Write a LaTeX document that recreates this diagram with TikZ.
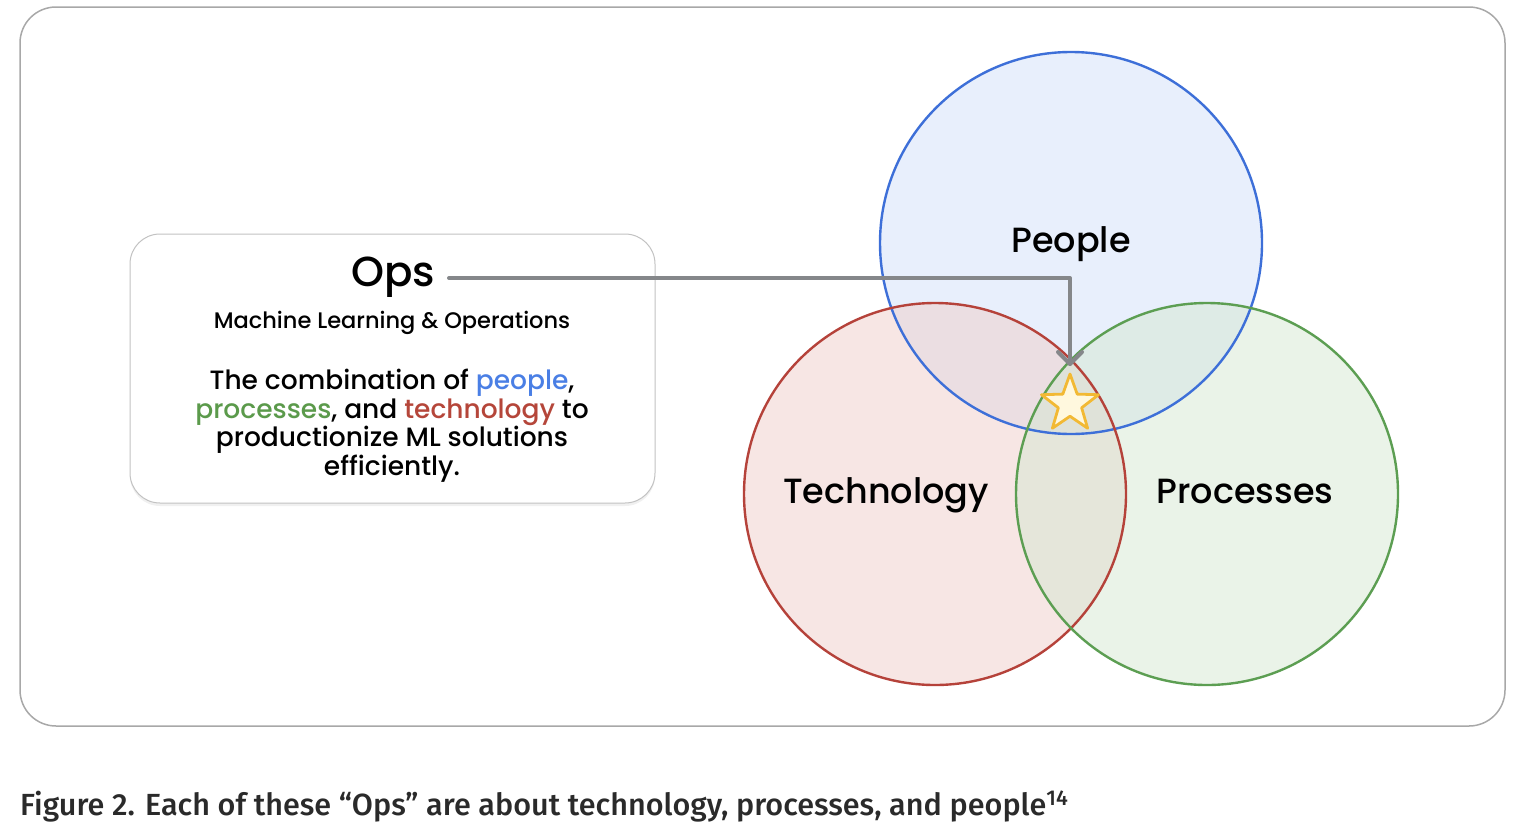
\documentclass[tikz,border=0pt]{standalone}
\usepackage{fontspec}
\setmainfont{Poppins Medium}
\newfontfamily\capfont{Fira Sans Medium}
\usetikzlibrary{shapes.geometric,arrows.meta,shadows}
\definecolor{frame}{HTML}{A8A8A8}
\definecolor{pplline}{HTML}{3D6FD8}
\definecolor{pplfill}{HTML}{D1DFF9}
\definecolor{techline}{HTML}{B5423A}
\definecolor{techfill}{HTML}{EFCDC9}
\definecolor{procline}{HTML}{5C9E52}
\definecolor{procfill}{HTML}{D5E7D1}
\definecolor{pplword}{HTML}{4A7FE5}
\definecolor{procword}{HTML}{5B9A4B}
\definecolor{techword}{HTML}{B5463A}
\definecolor{conn}{HTML}{85878A}
\definecolor{starline}{HTML}{F2B934}
\definecolor{starfill}{HTML}{FFF8DE}
\definecolor{captxt}{HTML}{2A2A2A}
\begin{document}
\begin{tikzpicture}[x=1pt,y=-1pt,
  setcircle/.style={circle,minimum size=382pt,inner sep=0pt},
  setlabel/.style={font=\fontsize{35}{40}\selectfont,inner sep=0pt},
  opsbox/.style={draw=frame!70,line width=1pt,rounded corners=30pt,fill=white,
     drop shadow={shadow xshift=0pt,shadow yshift=-3pt,opacity=0.12}},
  connector/.style={draw=conn,line width=4pt,line join=round}
]
\useasboundingbox (0,0) rectangle (1520,838);
% outer frame
\draw[frame,line width=1.5pt,rounded corners=36pt] (20,7) rectangle (1505,726);
% circles fills
\node[setcircle,fill=pplfill,fill opacity=0.5] (people) at (1071,243) {};
\node[setcircle,fill=techfill,fill opacity=0.5] (tech) at (935,494) {};
\node[setcircle,fill=procfill,fill opacity=0.5] (proc) at (1207,494) {};
% circle strokes
\draw[pplline,line width=2.4pt] (people.center) circle[radius=191pt];
\draw[techline,line width=2.4pt] (tech.center) circle[radius=191pt];
\draw[procline,line width=2.4pt] (proc.center) circle[radius=191pt];
% labels
\node[setlabel] (lpeople) at (1071,244) {People};
\node[setlabel] (ltech) at (886,495) {Technology};
\node[setlabel] (lproc) at (1245,491) {Processes};
% ops box
\node[opsbox,minimum width=525pt,minimum height=269pt,inner sep=0pt] (box) at (392.5,368.5) {};
\node[font=\fontsize{42}{46}\selectfont,inner sep=0pt] (ops) at (393,277) {Ops};
\node[font=\fontsize{22.5}{25}\selectfont,inner sep=0pt] (sub) at (392,323) {Machine Learning \& Operations};
\node[font=\fontsize{26.5}{28.6}\selectfont,align=center,inner sep=0pt,anchor=north] (body) at (392,369)
  {The combination of \textcolor{pplword}{people},\\
   \textcolor{procword}{processes}, and \textcolor{techword}{technology} to\\
   productionize ML solutions\\
   efficiently.};
% star
\node[star,star points=5,star point ratio=2.45,minimum size=60pt,inner sep=0pt,
      draw=starline,fill=starfill,line width=2.8pt,line join=round] (star) at (1070,404) {};
% connector
\coordinate (start) at (449,278);
\coordinate (bend) at (1070,278);
\coordinate (tip) at (1070,364);
\coordinate (barbl) at (1058,352);
\coordinate (barbr) at (1082,352);
\draw[connector,line cap=round] (start) -- (bend) -- (tip);
\draw[connector,line cap=round] (barbl) -- (tip) -- (barbr);
% caption
\node[anchor=base west,inner sep=0pt,text=captxt] (cap) at (20,815)
  {\resizebox{1048pt}{!}{\capfont\fontsize{30}{34}\selectfont Figure 2. Each of these “Ops” are about technology, processes, and people\textsuperscript{14}}};
\end{tikzpicture}
\end{document}
